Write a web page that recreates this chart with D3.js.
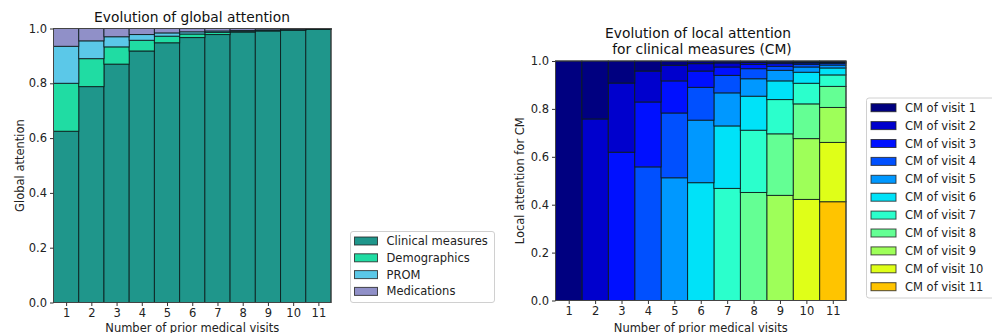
<!DOCTYPE html>
<html><head><meta charset="utf-8">
<script src="https://cdn.jsdelivr.net/npm/d3@7/dist/d3.min.js"></script>
<style>
html,body{margin:0;padding:0;background:#fff;}
svg{display:block;font-family:"DejaVu Sans",sans-serif;}
</style></head>
<body>
<svg id="chart" width="992" height="333"></svg>
<script>
// ---------- data ----------
const visits = [1,2,3,4,5,6,7,8,9,10,11];
const yTicks = [0,0.2,0.4,0.6,0.8,1.0];

// Global attention (stack bottom -> top)
const globalKeys = ["Clinical measures","Demographics","PROM","Medications"];
const clinicalMeasures = [0.625,0.788,0.870,0.918,0.948,0.967,0.978,0.987,0.991,0.994,0.997];
const demographics     = [0.175,0.102,0.063,0.039,0.024,0.013,0.008,0.003,0.002,0.001,0.001];
const prom             = [0.135,0.065,0.037,0.021,0.012,0.008,0.005,0.003,0.002,0.001,0.0005];
const medications      = [0.065,0.045,0.030,0.022,0.016,0.012,0.009,0.007,0.005,0.004,0.0015];
const globalColors = ["#1f968b","#20dca3","#5bc8e8","#9090c8"];

// Local attention for clinical measures, per visit across bars 1..11
const cmVisit1  = [1,0.242,0.092,0.042,0.018,0.011,0.008,0.006,0.005,0.004,0.003];
const cmVisit2  = [0,0.758,0.289,0.129,0.065,0.031,0.017,0.008,0.006,0.004,0.003];
const cmVisit3  = [0,0,0.619,0.271,0.134,0.068,0.035,0.018,0.011,0.006,0.004];
const cmVisit4  = [0,0,0,0.558,0.2705,0.137,0.073,0.042,0.017,0.011,0.007];
const cmVisit5  = [0,0,0,0,0.5125,0.261,0.138,0.073,0.044,0.022,0.012];
const cmVisit6  = [0,0,0,0,0,0.492,0.261,0.142,0.078,0.046,0.029];
const cmVisit7  = [0,0,0,0,0,0,0.468,0.260,0.143,0.086,0.048];
const cmVisit8  = [0,0,0,0,0,0,0,0.451,0.257,0.145,0.088];
const cmVisit9  = [0,0,0,0,0,0,0,0,0.439,0.254,0.146];
const cmVisit10 = [0,0,0,0,0,0,0,0,0,0.422,0.2475];
const cmVisit11 = [0,0,0,0,0,0,0,0,0,0,0.4125];
const localKeys = visits.map(v => "CM of visit " + v);
const localColors = ["#000080","#0000cd","#0010ff","#0050ff","#0098ff","#00e2f8","#2bffcc","#64ff94","#9eff59","#dfff18","#ffc400"];

// ---------- build tables ----------
const globalSeries = [clinicalMeasures, demographics, prom, medications];
const globalTable = visits.map((v,i) => {
  const r = {visit:v}; globalKeys.forEach((k,j)=> r[k]=globalSeries[j][i]); return r;
});
const localSeries = [cmVisit1,cmVisit2,cmVisit3,cmVisit4,cmVisit5,cmVisit6,cmVisit7,cmVisit8,cmVisit9,cmVisit10,cmVisit11];
const localTable = visits.map((v,i) => {
  const r = {visit:v}; localKeys.forEach((k,j)=> r[k]=localSeries[j][i]); return r;
});

const svg = d3.select("#chart");
const FS = 11.5;

function drawPanel(opt){
  const x = d3.scaleLinear().domain([0.5,11.5]).range([opt.x0,opt.x1]);
  const y = d3.scaleLinear().domain([0,1]).range([opt.y0,opt.y1]);
  const g = svg.append("g");
  const stack = d3.stack().keys(opt.stackKeys)(opt.table);
  stack.forEach(layer => {
    const ci = opt.keys.indexOf(layer.key);
    g.append("g").selectAll("rect").data(layer.filter(d => d[1]-d[0] > 0)).join("rect")
      .attr("x", d => x(d.data.visit-0.5))
      .attr("width", d => x(d.data.visit+0.5)-x(d.data.visit-0.5))
      .attr("y", d => y(d[1]))
      .attr("height", d => y(d[0])-y(d[1]))
      .attr("fill", opt.colors[ci])
      .attr("stroke","#0a1a1a").attr("stroke-opacity",0.85).attr("stroke-width",1);
  });
  // frame
  g.append("rect").attr("x",opt.x0).attr("y",opt.y1).attr("width",opt.x1-opt.x0).attr("height",opt.y0-opt.y1)
    .attr("fill","none").attr("stroke","#444").attr("stroke-width",1);
  // axes
  const xa = g.append("g").attr("transform",`translate(0,${opt.y0})`)
    .call(d3.axisBottom(x).tickValues(visits).tickFormat(d3.format("d")).tickSize(3.5).tickPadding(3));
  const ya = g.append("g").attr("transform",`translate(${opt.x0},0)`)
    .call(d3.axisLeft(y).tickValues(yTicks).tickFormat(d3.format(".1f")).tickSize(3.5).tickPadding(3));
  [xa,ya].forEach(a=>{
    a.select(".domain").remove();
    a.selectAll("line").attr("stroke","#333");
    a.selectAll("text").attr("font-size",FS).attr("fill","#222").attr("font-family","DejaVu Sans");
  });
  // x label
  g.append("text").attr("x",(opt.x0+opt.x1)/2).attr("y",331.5).attr("text-anchor","middle")
    .attr("font-size",FS).attr("fill","#222").text("Number of prior medical visits");
  // y label
  g.append("text").attr("transform",`translate(${opt.ylabX},${(opt.y0+opt.y1)/2}) rotate(-90)`)
    .attr("text-anchor","middle").attr("font-size",FS).attr("fill","#222").text(opt.ylabel);
  // title
  opt.title.forEach((t,i)=>{
    g.append("text").attr("x",opt.titleX[i]).attr("y",opt.titleY+i*16).attr("text-anchor","middle")
      .attr("font-size",13.8).attr("fill","#111").text(t);
  });
  // legend
  const L = opt.legend;
  g.append("rect").attr("x",L.x).attr("y",L.y).attr("width",L.w).attr("height",L.h).attr("rx",2.5)
    .attr("fill","#fff").attr("stroke","#d0d0d0").attr("stroke-width",1);
  opt.keys.forEach((k,i)=>{
    const cy = L.firstY + i*L.step;
    g.append("rect").attr("x",L.px).attr("y",cy-4).attr("width",L.pw).attr("height",8)
      .attr("fill",opt.colors[i]).attr("stroke","#222").attr("stroke-opacity",0.8).attr("stroke-width",1);
    g.append("text").attr("x",L.tx).attr("y",cy+4).attr("font-size",FS).attr("fill","#222").text(k);
  });
}

drawPanel({
  x0:53.5, x1:331, y0:302.5, y1:28.5,
  table: globalTable, keys: globalKeys, stackKeys: globalKeys, colors: globalColors,
  ylabel:"Global attention", ylabX:24,
  title:["Evolution of global attention"], titleX:[192], titleY:21.5,
  legend:{x:350.5,y:231.5,w:144,h:71,firstY:241,step:16.8,px:354.5,pw:23,tx:386.5}
});

drawPanel({
  x0:555.5, x1:846, y0:300.5, y1:61,
  table: localTable, keys: localKeys, stackKeys: localKeys.slice().reverse(), colors: localColors,
  ylabel:"Local attention for CM", ylabX:524,
  title:["Evolution of local attention"," for clinical measures (CM)"], titleX:[698,702], titleY:37.5,
  legend:{x:866.5,y:98,w:130,h:200,firstY:107.7,step:17.9,px:871,pw:25,tx:905}
});
</script>
</body></html>
